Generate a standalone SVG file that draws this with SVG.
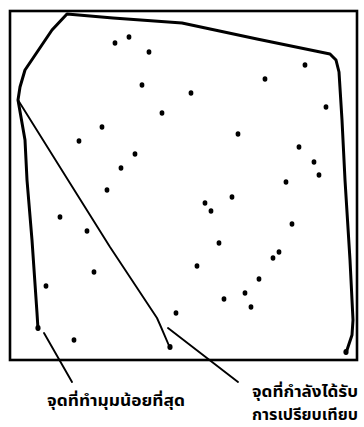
<svg xmlns="http://www.w3.org/2000/svg" width="364" height="427" viewBox="0 0 364 427">
<style>
.frame{fill:none;stroke:#000;stroke-width:2.6}
.hull{fill:none;stroke:#000;stroke-width:3;stroke-linejoin:round;stroke-linecap:round}
.ln{fill:none;stroke:#000;stroke-width:1.9;stroke-linecap:round;stroke-linejoin:round}
.pt{fill:#000}
.lbl{font-family:"Noto Sans Thai","Noto Sans","DejaVu Sans",sans-serif;font-size:15px;font-weight:bold;fill:#000}
</style>
<rect width="364" height="427" fill="#fff"/>
<g id="frame"><rect class="frame" x="10" y="11" width="347" height="349"/></g>
<g id="connectors">
<path id="hull" class="hull" d="M38,329 L37,313 L32,240 L27,180 L25,140 L18,100 L20,87 L25,70 L52,30 L67,14 L113,18 L182,23 L257,39 L330,54 L336,60 L339,72 L342,120 L345,180 L350,260 L353,320 L352,335 L346,353"/>
<path id="scan-line" class="ln" d="M18,100 L68,180 L110,247 L157,318 L161,327 L170,348"/>
<path id="pointer-min" class="ln" d="M44,333 L72,382"/>
<path id="pointer-cmp" class="ln" d="M168,328 L238,382"/>
</g>
<g id="points" class="pt">
<ellipse cx="115" cy="43" rx="2.4" ry="2.8"/>
<ellipse cx="129" cy="37" rx="2.4" ry="2.8"/>
<ellipse cx="149" cy="52" rx="2.4" ry="2.8"/>
<ellipse cx="142" cy="85" rx="2.4" ry="2.8"/>
<ellipse cx="162" cy="113" rx="2.4" ry="2.8"/>
<ellipse cx="102" cy="127" rx="2.4" ry="2.8"/>
<ellipse cx="79" cy="141" rx="2.4" ry="2.8"/>
<ellipse cx="135" cy="154" rx="2.4" ry="2.8"/>
<ellipse cx="121" cy="168" rx="2.4" ry="2.8"/>
<ellipse cx="305" cy="65" rx="2.4" ry="2.8"/>
<ellipse cx="265" cy="79" rx="2.4" ry="2.8"/>
<ellipse cx="191" cy="93" rx="2.4" ry="2.8"/>
<ellipse cx="326" cy="107" rx="2.4" ry="2.8"/>
<ellipse cx="238" cy="134" rx="2.4" ry="2.8"/>
<ellipse cx="299" cy="147" rx="2.4" ry="2.8"/>
<ellipse cx="314" cy="162" rx="2.4" ry="2.8"/>
<ellipse cx="319" cy="175" rx="2.4" ry="2.8"/>
<ellipse cx="286" cy="182" rx="2.4" ry="2.8"/>
<ellipse cx="107" cy="190" rx="2.4" ry="2.8"/>
<ellipse cx="60" cy="217" rx="2.4" ry="2.8"/>
<ellipse cx="87" cy="231" rx="2.4" ry="2.8"/>
<ellipse cx="94" cy="272" rx="2.4" ry="2.8"/>
<ellipse cx="46" cy="286" rx="2.4" ry="2.8"/>
<ellipse cx="176" cy="313" rx="2.4" ry="2.8"/>
<ellipse cx="74" cy="340" rx="2.4" ry="2.8"/>
<ellipse cx="232" cy="197" rx="2.4" ry="2.8"/>
<ellipse cx="205" cy="203" rx="2.4" ry="2.8"/>
<ellipse cx="211" cy="211" rx="2.4" ry="2.8"/>
<ellipse cx="292" cy="224" rx="2.4" ry="2.8"/>
<ellipse cx="219" cy="243" rx="2.4" ry="2.8"/>
<ellipse cx="279" cy="252" rx="2.4" ry="2.8"/>
<ellipse cx="273" cy="258" rx="2.4" ry="2.8"/>
<ellipse cx="197" cy="266" rx="2.4" ry="2.8"/>
<ellipse cx="259" cy="279" rx="2.4" ry="2.8"/>
<ellipse cx="245" cy="293" rx="2.4" ry="2.8"/>
<ellipse cx="224" cy="299" rx="2.4" ry="2.8"/>
<ellipse cx="251" cy="307" rx="2.4" ry="2.8"/>
<ellipse cx="38" cy="328" rx="2.6" ry="3"/>
<ellipse cx="170" cy="347" rx="2.6" ry="3"/>
<ellipse cx="346" cy="352" rx="2.6" ry="3"/>
</g>
<g id="label-min"><text class="lbl" x="47" y="406" textLength="138" lengthAdjust="spacingAndGlyphs">จุดที่ทำมุมน้อยที่สุด</text></g>
<g id="label-cmp"><text class="lbl" x="252" y="397" textLength="106" lengthAdjust="spacingAndGlyphs">จุดที่กำลังได้รับ</text><text class="lbl" x="252" y="420" textLength="106" lengthAdjust="spacingAndGlyphs">การเปรียบเทียบ</text></g>
</svg>
